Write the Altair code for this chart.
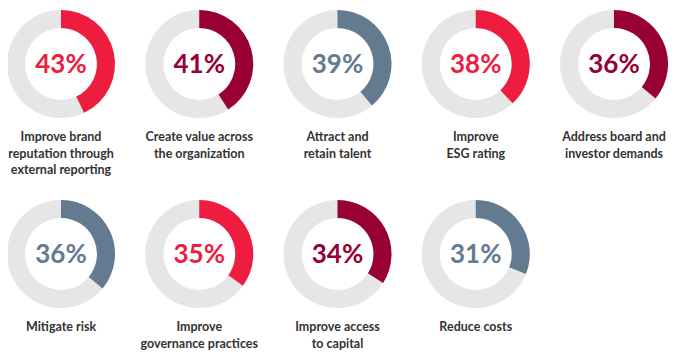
import altair as alt
import pandas as pd

labels = [
    "Improve brand\nreputation through\nexternal reporting",
    "Create value across\nthe organization",
    "Attract and\nretain talent",
    "Improve\nESG rating",
    "Address board and\ninvestor demands",
    "Mitigate risk",
    "Improve\ngovernance practices",
    "Improve access\nto capital",
    "Reduce costs",
]
values = [43, 41, 39, 38, 36, 36, 35, 34, 31]

RED, DARK, SLATE, GREY = "#ee1c3e", "#990033", "#647a91", "#e6e6e6"
palette = [RED, DARK, SLATE, RED, DARK, SLATE, RED, DARK, SLATE]

df = pd.DataFrame({"label": labels, "pct": values})
df["col"] = [i % 5 for i in range(len(df))]
df["row"] = [i // 5 for i in range(len(df))]
df["txt"] = [f"{v}%" for v in values]

FONT = "Lato"
xs = alt.X("col:Q", scale=alt.Scale(domain=[0, 4], range=[53, 606]), axis=None)
ys = alt.Y("row:Q", scale=alt.Scale(domain=[0, 1], range=[56, 246]), axis=None)
color = alt.Color("label:N", scale=alt.Scale(domain=labels, range=palette), legend=None)

base = alt.Chart(df)

ring = base.mark_arc(outerRadius=54, innerRadius=36, color=GREY).encode(
    x=xs, y=ys, theta=alt.value(0), theta2=alt.value(6.2832)
)

arc = base.mark_arc(outerRadius=54, innerRadius=36).encode(
    x=xs, y=ys,
    theta=alt.Theta("pct:Q", scale=alt.Scale(domain=[0, 100], range=[0, 6.283185]), stack=None),
    theta2=alt.value(0),
    color=color,
)

pct_text = base.mark_text(font=FONT, fontSize=26, fontWeight="bold", baseline="middle", align="center", dy=1).encode(
    x=xs, y=ys, text="txt:N", color=color
)

lab_text = base.mark_text(font=FONT, fontSize=12.5, fontWeight="bold", baseline="alphabetic", align="center",
                          dy=77, lineBreak="\n", lineHeight=16.5, color="#333333").encode(
    x=xs, y=ys, text="label:N"
)

chart = alt.layer(ring, arc, pct_text, lab_text).properties(
    width=663, height=347, autosize=alt.AutoSizeParams(type="none"), padding=0
).configure_view(strokeWidth=0, strokeOpacity=0, fill=None)

chart.save("out.html", embed_options={"renderer": "svg", "actions": False})
